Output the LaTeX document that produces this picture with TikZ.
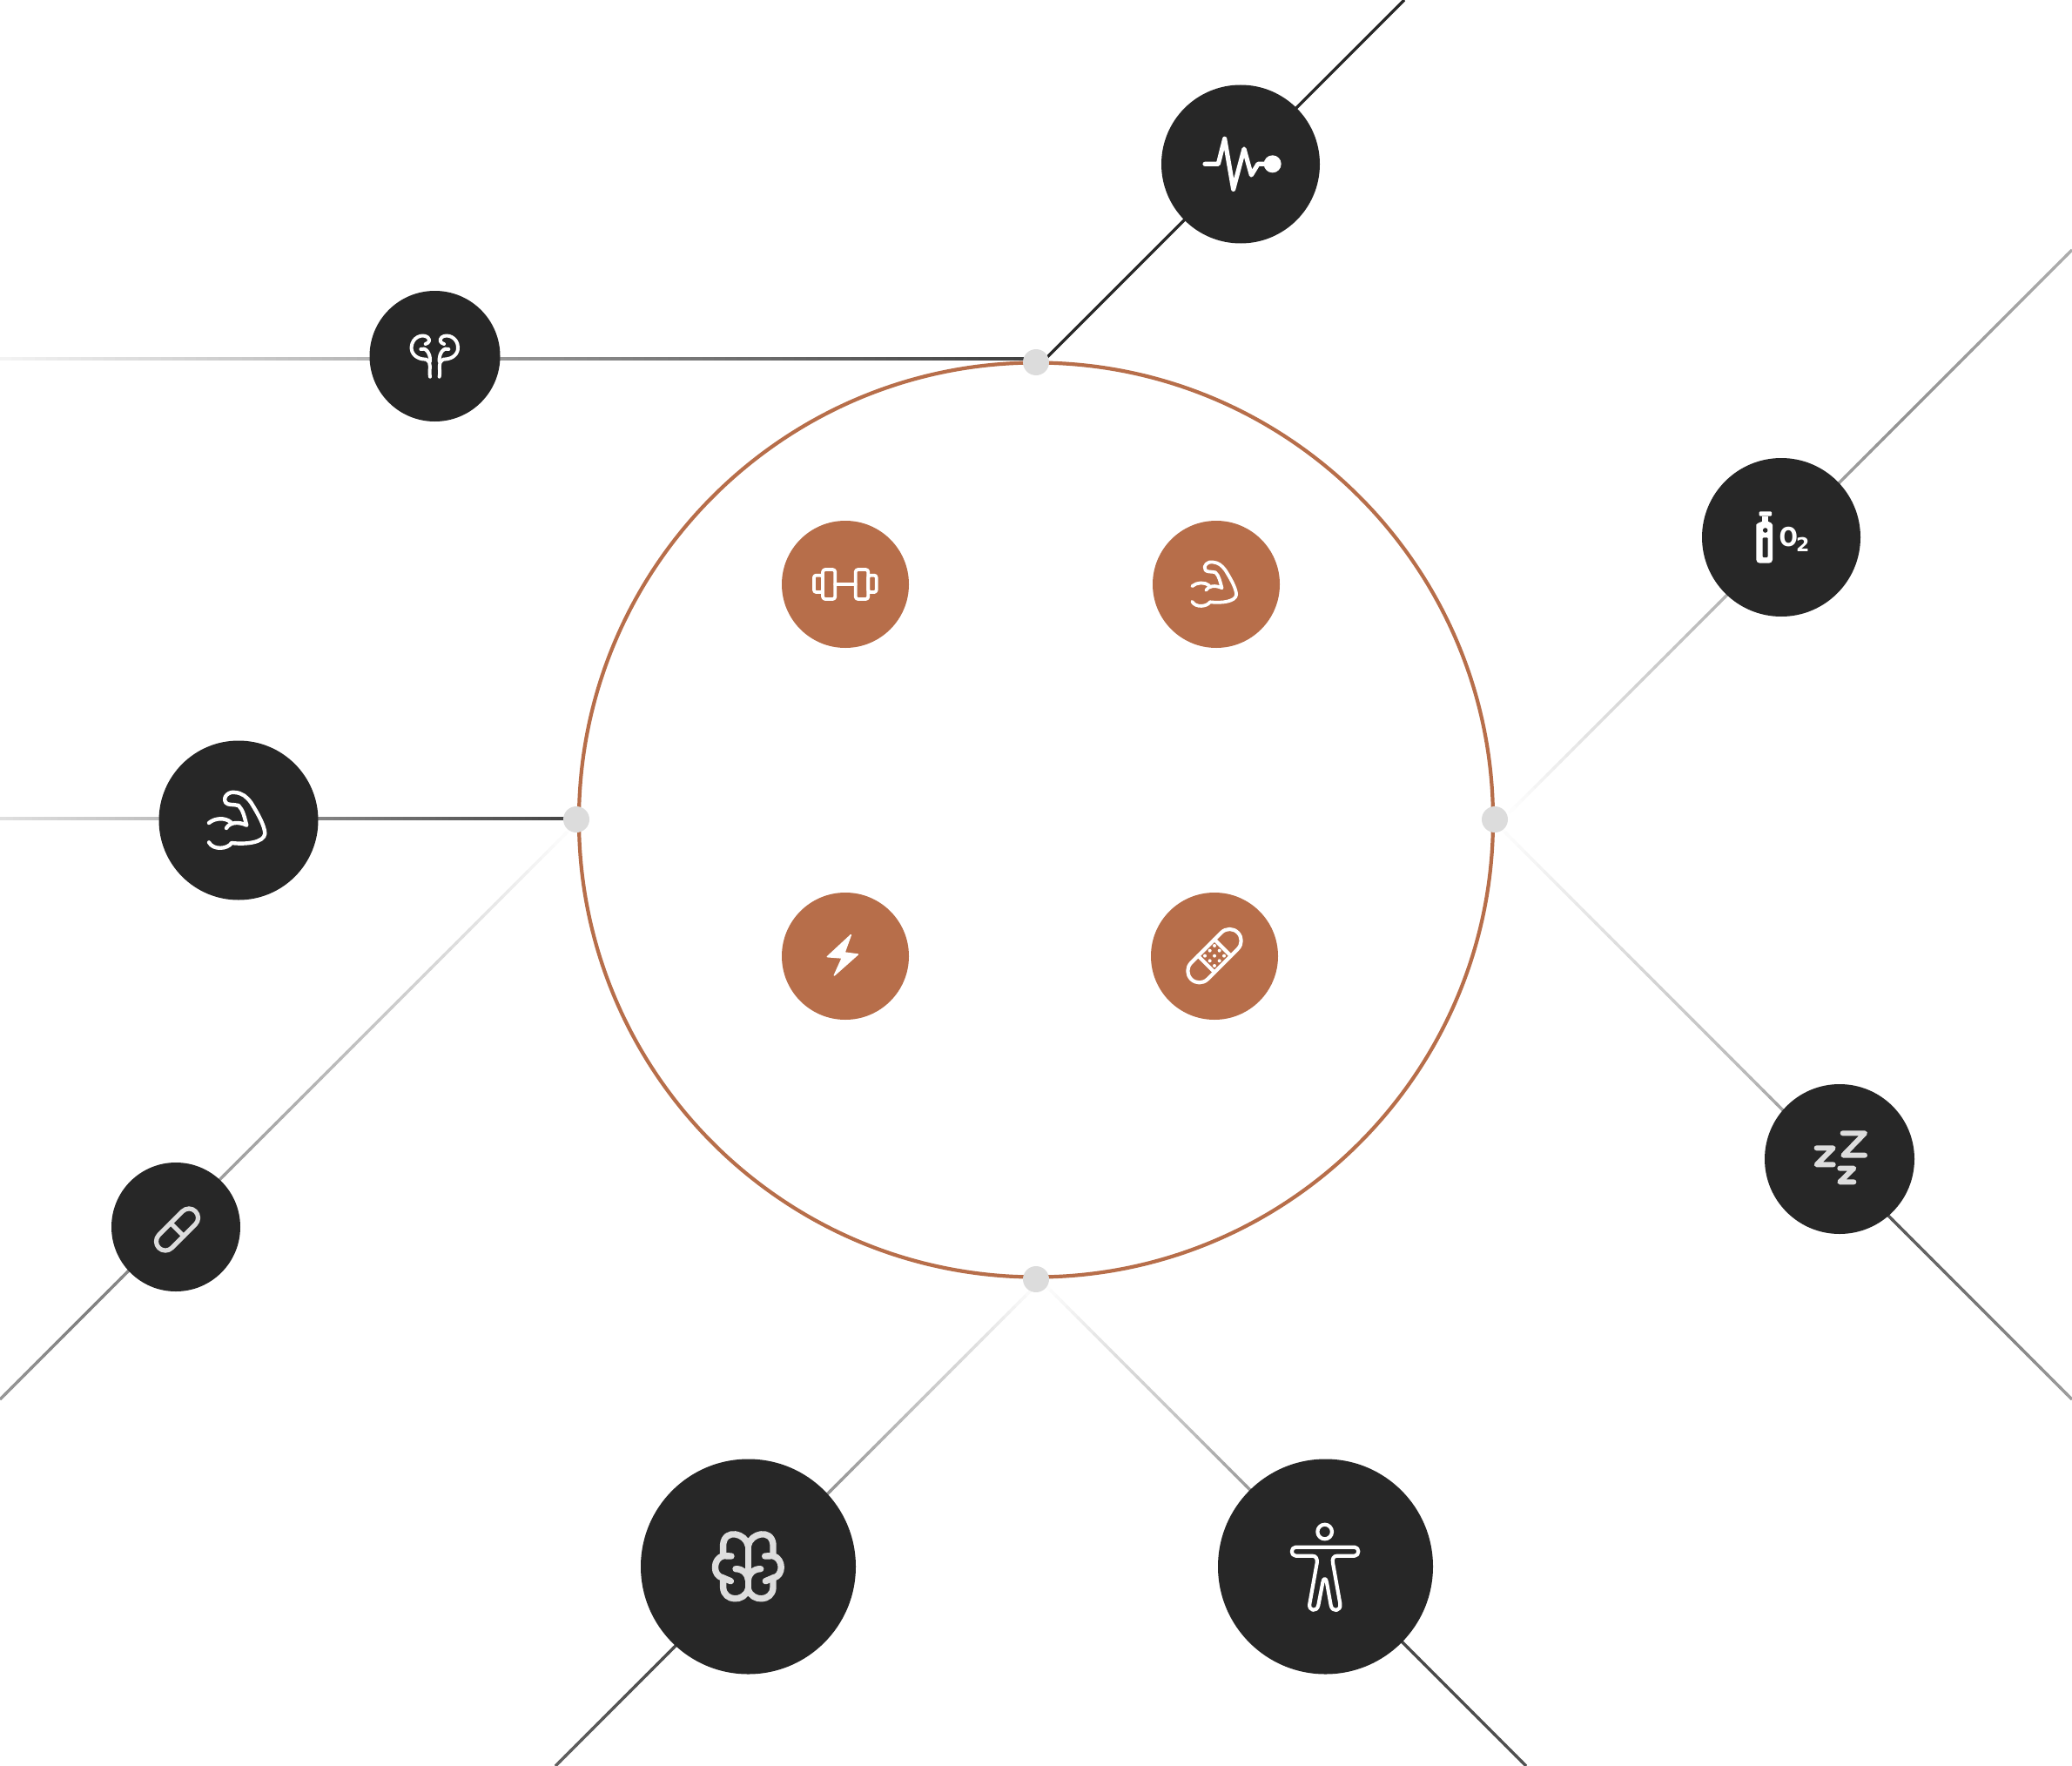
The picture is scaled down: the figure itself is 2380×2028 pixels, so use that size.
\documentclass[tikz,border=0pt]{standalone}
\usepackage{fontspec}
\usetikzlibrary{calc}
\newfontfamily\iconfont{DejaVu Sans}
\definecolor{nodedark}{HTML}{272727}
\definecolor{copper}{HTML}{B76E4A}
\definecolor{dotgrey}{HTML}{DCDCDC}
\definecolor{softwhite}{HTML}{DDDDDD}
\tikzset{
  disc/.style={circle,inner sep=0pt,outer sep=0pt,minimum size=#1},
  darkdisc/.style={disc=#1,fill=nodedark},
  copperdisc/.style={disc=#1,fill=copper},
  junction/.style={disc=30pt,fill=dotgrey},
  ic/.style={line cap=round,line join=round,line width=#1,draw=white},
  zoomed/.style n args={2}{shift={(#1,#2)},x=.33333pt,y=-.33333pt},
  mirrored/.style n args={2}{shift={(#1,#2)},x=-.33333pt,y=-.33333pt},
}
% shaded connector: grey g0 at start, g1 at t1, g2 at t2, g3 at end
\newcommand\gradline[8]{%
  \foreach \ii in {0,...,89}{%
    \pgfmathsetmacro\tta{\ii/90}%
    \pgfmathsetmacro\ttb{min(1,(\ii+1.3)/90)}%
    \pgfmathsetmacro\tg{\tta<#4 ? #3+(#5-#3)*\tta/#4 : (\tta<#6 ? #5+(#7-#5)*(\tta-#4)/(#6-#4) : #7+(#8-#7)*(\tta-#6)/(1-#6))}%
    \definecolor{segc}{gray}{\tg}%
    \draw[segc,line width=3.3pt] ($(#1)!\tta!(#2)$) -- ($(#1)!\ttb!(#2)$);
  }}
\newcommand\armicon{%
  \draw (120,195) .. controls (140,178) and (175,175) .. (196,193);
  \draw (180,213) .. controls (192,192) and (222,190) .. (250,203)
     .. controls (242,175) and (238,150) .. (222,135)
     .. controls (205,130) and (185,135) .. (178,125)
     .. controls (165,105) and (190,85) .. (210,90)
     .. controls (235,92) and (250,105) .. (265,125)
     .. controls (290,165) and (312,205) .. (313,232)
     .. controls (310,262) and (250,270) .. (198,264)
     .. controls (185,285) and (135,290) .. (120,262);
}
\newcommand\brainhalf{%
  \draw (208,135) .. controls (200,92) and (128,75) .. (122,130) -- (122,170);
  \draw (150,171) -- (122,170) .. controls (85,180) and (85,240) .. (122,246)
     -- (148,257);
  \draw (122,246) -- (122,280) .. controls (125,328) and (195,330) .. (208,285);
  \draw (165,215) .. controls (190,215) and (205,230) .. (208,252);
}
\newcommand\kidneyhalf{%
  \draw (222,308) .. controls (216,280) and (232,262) .. (208,248)
     .. controls (175,248) and (156,228) .. (158,205)
     .. controls (160,172) and (195,158) .. (214,172)
     .. controls (224,182) and (218,192) .. (206,195);
  \draw (190,213) .. controls (205,205) and (224,225) .. (222,255);
}
\begin{document}
\begin{tikzpicture}[x=1pt,y=-1pt]
\useasboundingbox (0,0) rectangle (2380,2028);
\fill[white] (0,0) rectangle (2380,2028);
% junctions and connector ends
\coordinate (jT) at (1190,416);
\coordinate (jB) at (1190,1469);
\coordinate (jL) at (662,941);
\coordinate (jR) at (1717,941);
\coordinate (startHeart) at (1197,416);
\coordinate (startKidney) at (1190,412);
\coordinate (startArm) at (662,940);
\coordinate (startOxy) at (1726,941);
\coordinate (startSleep) at (1714,941);
\coordinate (startPill) at (666,941);
\coordinate (startBrain) at (1197,1469);
\coordinate (startBody) at (1194,1469);
\coordinate (endHeart) at (1613,0);
\coordinate (endKidney) at (0,412);
\coordinate (endArm) at (0,940);
\coordinate (endOxy) at (2380,287);
\coordinate (endSleep) at (2380,1607);
\coordinate (endPill) at (0,1607);
\coordinate (endBrain) at (638,2028);
\coordinate (endBody) at (1753,2028);
% connectors
\draw[nodedark,line width=3.3pt] (startHeart) -- (endHeart);
\gradline{startKidney}{endKidney}{0.25}{0.5}{0.58}{0.65}{0.72}{0.96}
\gradline{startArm}{endArm}{0.26}{0.5}{0.55}{0.72}{0.75}{0.88}
\gradline{startOxy}{endOxy}{1}{0.4}{0.7}{0.7}{0.58}{0.68}
\gradline{startSleep}{endSleep}{1}{0.45}{0.72}{0.66}{0.32}{0.62}
\gradline{startPill}{endPill}{1}{0.55}{0.65}{0.85}{0.5}{0.6}
\gradline{startBrain}{endBrain}{1}{0.3}{0.72}{0.72}{0.28}{0.38}
\gradline{startBody}{endBody}{1}{0.3}{0.75}{0.72}{0.28}{0.32}
% ring
\node[disc=1050pt,draw=copper,line width=4.2pt] (ring) at (1190,941.5) {};
\node[junction] (dotT) at (jT) {};
\node[junction] (dotB) at (jB) {};
\node[junction] (dotL) at (jL) {};
\node[junction] (dotR) at (jR) {};
% dark nodes
\node[darkdisc=182pt] (heart) at (1425,188.5) {};
\node[darkdisc=150pt] (kidney) at (499.5,409) {};
\node[darkdisc=183pt] (armdark) at (274,942) {};
\node[darkdisc=148pt] (pill) at (202,1409) {};
\node[darkdisc=182pt] (oxy) at (2046,617) {};
\node[darkdisc=172pt] (sleep) at (2113,1331) {};
\node[darkdisc=247pt] (brain) at (859.5,1799) {};
\node[darkdisc=247pt] (body) at (1522.5,1799) {};
% copper nodes
\node[copperdisc=146pt] (dumbbell) at (971,671) {};
\node[copperdisc=146pt] (armcopper) at (1397,671) {};
\node[copperdisc=146pt] (bolt) at (971,1098) {};
\node[copperdisc=146pt] (bandage) at (1395,1098) {};
% heart icon
\begin{scope}[zoomed={1320}{90}]
  \draw[ic=5.2pt] (192,295) -- (238,295) -- (260,208) -- (290,382) -- (327,243) -- (352,333) -- (375,295) -- (415,295);
  \fill[white] (425,295) circle[radius=10pt];
\end{scope}
% kidney icon
\begin{scope}[zoomed={420}{330},every path/.style={ic=4pt}]
  \kidneyhalf
\end{scope}
\begin{scope}[mirrored={578.67}{330},every path/.style={ic=4pt}]
  \kidneyhalf
\end{scope}
% dark arm
\begin{scope}[zoomed={200}{880},every path/.style={ic=4.4pt}]
  \armicon
\end{scope}
% copper arm
\begin{scope}[shift={(1337.7,621.8)},x=.2633pt,y=-.2633pt,every path/.style={ic=3.8pt}]
  \armicon
\end{scope}
% pill
\begin{scope}[zoomed={150}{1360}]
  \begin{scope}[shift={(160.5,156)},rotate=45]
    \draw[ic=5.2pt,draw=softwhite,rounded corners=10.5pt] (-89,-31.5) rectangle (89,31.5);
    \draw[ic=5.2pt,draw=softwhite] (0,-31.5) -- (0,31.5);
  \end{scope}
\end{scope}
% dumbbell
\begin{scope}[zoomed={890}{590}]
  \draw[ic=3.8pt,rounded corners=2.5pt] (135,212) rectangle (165,270);
  \draw[ic=3.8pt,rounded corners=3pt] (165,192) rectangle (208,294);
  \draw[ic=3.8pt,rounded corners=3pt] (278,192) rectangle (322,294);
  \draw[ic=3.8pt,rounded corners=2.5pt] (322,212) rectangle (350,270);
  \draw[ic=3.8pt] (208,243) -- (278,243);
\end{scope}
% bolt
\begin{scope}[zoomed={890}{1020}]
  \fill[white,draw=white,line width=1.5pt,line join=round] (262,161) -- (181,236) -- (232,240) -- (205,300) -- (286,228) -- (240,222) -- cycle;
\end{scope}
% bandage
\begin{scope}[zoomed={1320}{1020}]
  \begin{scope}[shift={(225,233)},rotate=45]
    \draw[ic=4.2pt,rounded corners=13.3pt] (-113.5,-40) rectangle (113.5,40);
    \draw[ic=4.2pt] (-40,-40) -- (-40,40);
    \draw[ic=4.2pt] (40,-40) -- (40,40);
  \end{scope}
  \foreach \px/\py in {225/233,209/215,242/215,192/233,258/233,209/250,242/250,225/198,225/267}
    \fill[white] (\px,\py) circle[radius=2pt];
\end{scope}
% oxygen
\begin{scope}[zoomed={1980}{550}]
  \fill[white,rounded corners=1pt] (122,112) rectangle (165,128);
  \fill[white] (133,128) rectangle (153,150);
  \fill[white,rounded corners=4pt] (112,290) -- (112,170) .. controls (112,155) and (125,148) .. (143,146) .. controls (160,148) and (168,155) .. (168,170) -- (168,290) -- cycle;
  \fill[nodedark,rounded corners=1pt] (134,270) rectangle (152,202);
  \fill[nodedark] (143,177) circle[radius=2.8pt];
  \node[inner sep=0pt,text=white,font=\iconfont\bfseries\fontsize{30}{30}\selectfont,xscale=.84] (oxyO) at (223,201) {O};
  \node[inner sep=0pt,text=white,font=\iconfont\bfseries\fontsize{22}{22}\selectfont] (oxytwo) at (272,225) {2};
\end{scope}
% sleep
\begin{scope}[zoomed={2040}{1260}]
  \draw[ic=6pt,draw=softwhite] (230,124) -- (306,124) -- (232,200) -- (306,200);
  \draw[ic=6pt,draw=softwhite] (140,175) -- (197,175) -- (140,232) -- (197,232);
  \draw[ic=6pt,draw=softwhite] (220,245) -- (268,245) -- (220,292) -- (268,292);
\end{scope}
% brain
\begin{scope}[zoomed={790}{1730},every path/.style={ic=7.4pt,draw=softwhite}]
  \brainhalf
  \draw (208,120) -- (208,295);
\end{scope}
\begin{scope}[mirrored={928.67}{1730},every path/.style={ic=7.4pt,draw=softwhite}]
  \brainhalf
\end{scope}
% body
\begin{scope}[zoomed={1450}{1730}]
  \draw[ic=4.2pt] (215,87) circle[radius=8.3pt];
  \draw[ic=4.2pt] (115,140) -- (318,140) .. controls (335,140) and (335,170) .. (318,170) -- (258,170) .. controls (245,170) and (240,180) .. (243,195) -- (268,335) .. controls (272,362) and (240,365) .. (236,340) -- (222,262) .. controls (220,245) and (210,245) .. (208,262) -- (193,340) .. controls (188,365) and (158,360) .. (163,335) -- (188,195) .. controls (190,180) and (185,170) .. (172,170) -- (115,170) .. controls (97,170) and (97,140) .. (115,140) -- cycle;
\end{scope}
\end{tikzpicture}
\end{document}
